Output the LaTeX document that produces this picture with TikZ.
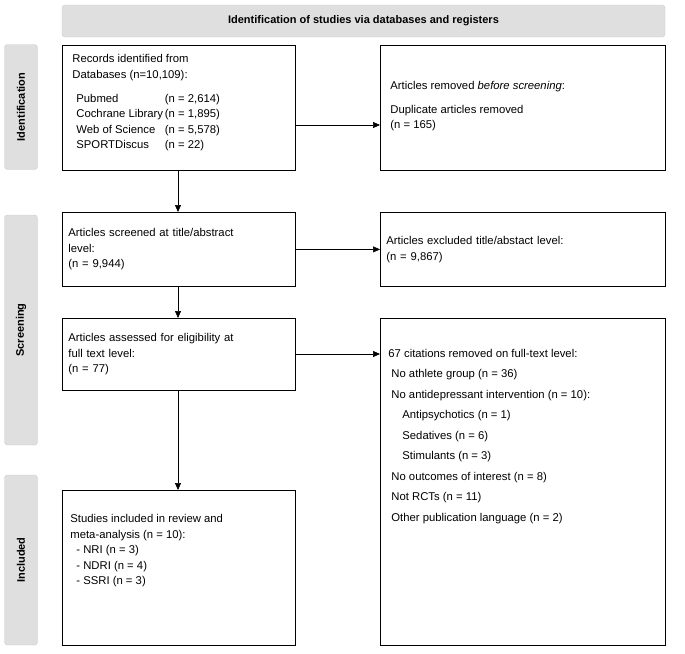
\documentclass[tikz,border=0pt]{standalone}
\usepackage{fontspec}
\setmainfont{Liberation Sans}
\usetikzlibrary{arrows.meta,positioning}
\tikzset{
  box/.style={draw,thick,anchor=north west,align=left,inner sep=6pt,font=\fontsize{11.3}{15.5}\selectfont},
  band/.style={fill=gray!25,draw=gray!40,rounded corners=3pt,font=\bfseries\fontsize{11}{13}\selectfont},
  flow/.style={-{Triangle[length=7pt,width=6pt]},semithick}
}
\begin{document}
\begin{tikzpicture}[x=1pt,y=-1pt]
  \useasboundingbox (0,0) rectangle (685,653);
  % banners
  \node[band,minimum width=603,minimum height=32] (top) at (363.5,21) {Identification of studies via databases and registers};
  \node[band,minimum width=125,minimum height=33,rotate=90] (ident) at (21,107) {Identification};
  \node[band,minimum width=230,minimum height=33,rotate=90] (screen) at (21,330) {Screening};
  \node[band,minimum width=170,minimum height=33,rotate=90] (incl) at (21,560) {Included};
  % identification
  \draw[thick] (62,45) rectangle (295,170);
  \node[box,draw=none] (rec) at (66,48) {Records identified from\\Databases (n=10,109):\\[10pt]
    \hspace{4pt}\begin{tabular}{@{}l@{\,}l@{}}Pubmed & (n = 2,614)\\ Cochrane Library & (n = 1,895)\\ Web of Science & (n = 5,578)\\ SPORTDiscus & (n = 22)\end{tabular}};
  \coordinate (recS) at (178,170);
  \coordinate (recE) at (295,125);
  \draw[thick] (380,45) rectangle (665,170);
  \coordinate (dupW) at (380,125);
  \node[box,draw=none] (dup) at (384,75) {Articles removed \textit{before screening}:\\[8pt]Duplicate articles removed\\(n = 165)};
  % screening
  \node[box,text width=221,minimum height=74] (scr) at (62,212) {Articles screened at title/abstract\\level:\\(n = 9,944)};
  \node[box,text width=273,minimum height=74] (exc) at (380,212) {Articles excluded title/abstact level:\\(n = 9,867)};
  \node[box,text width=221,minimum height=72] (elig) at (62,318) {Articles assessed for eligibility at\\full text level:\\(n = 77)};
  \draw[thick] (380,318) rectangle (665,645);
  \node[box,draw=none,inner sep=0pt] (rem) at (388,346) {\begin{tabular}{@{}l@{}}
    67 citations removed on full-text level:\\[5pt]
    \hspace{3pt}No athlete group (n = 36)\\[5pt]
    \hspace{3pt}No antidepressant intervention (n = 10):\\[5pt]
    \hspace{14pt}Antipsychotics (n = 1)\\[5pt]
    \hspace{14pt}Sedatives (n = 6)\\[5pt]
    \hspace{14pt}Stimulants (n = 3)\\[5pt]
    \hspace{3pt}No outcomes of interest (n = 8)\\[5pt]
    \hspace{3pt}Not RCTs (n = 11)\\[5pt]
    \hspace{3pt}Other publication language (n = 2)\end{tabular}};
  \coordinate (remW) at (380,354);
  % included
  \draw[thick] (62,490) rectangle (295,645);
  \node[box,draw=none] (inc) at (64,508) {Studies included in review and\\meta-analysis (n = 10):\\\hspace{6pt}- NRI (n = 3)\\\hspace{6pt}- NDRI (n = 4)\\\hspace{6pt}- SSRI (n = 3)};
  \coordinate (incN) at (178,490);
  % arrows
  \draw[flow] (recE) -- (dupW);
  \draw[flow] (recS) -- (scr.north -| recS);
  \draw[flow] (scr.east) -- (exc.west |- scr.east);
  \draw[flow] (scr.south -| recS) -- (elig.north -| recS);
  \draw[flow] (elig.east |- remW) -- (remW);
  \draw[flow] (elig.south -| recS) -- (incN);
\end{tikzpicture}
\end{document}
